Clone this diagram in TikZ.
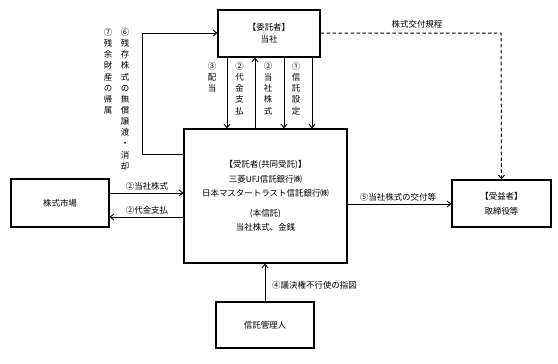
\documentclass[tikz,border=0pt]{standalone}
\usepackage{fontspec}
\setmainfont{Noto Sans CJK JP}
\usetikzlibrary{arrows.meta,positioning}
\tikzset{party/.style={draw=black,line width=1.3pt,align=center,inner sep=0pt,
  font=\fontsize{8.5}{12.5}\selectfont},
 flow/.style={line width=.9pt,-{Straight Barb[length=3.5pt,width=6pt]}},
 lbl/.style={font=\fontsize{8.5}{10}\selectfont,inner sep=1pt},
 vlbl/.style={font=\fontsize{8.5}{11.2}\selectfont,align=center,inner sep=0pt,anchor=north}}

\begin{document}
\begin{tikzpicture}[x=1bp,y=-1bp]
\useasboundingbox (0,0) rectangle (558,363);
% parties
\node[party,minimum width=102bp,minimum height=47bp] (trustor) at (269,33.5) {【委託者】\\当社};
\node[party,minimum width=163bp,minimum height=134bp,font=\fontsize{8.5}{14.5}\selectfont] (trustee) at (265.5,196)
  {【受託者(共同受託)】\\三菱UFJ信託銀行㈱\\日本マスタートラスト信託銀行㈱\\[5pt](本信託)\\当社株式、金銭};
\node[party,minimum width=98bp,minimum height=48bp] (market) at (60,203) {株式市場};
\node[party,minimum width=99bp,minimum height=47bp,font=\fontsize{8.5}{15}\selectfont] (benef) at (501.5,203.5) {【受益者】\\取締役等};
\node[party,minimum width=98bp,minimum height=46bp] (admin) at (265,325) {信託管理人};
% columns between trustor and trustee
\coordinate (c3) at (227,0);
\coordinate (c2a) at (255,0);
\coordinate (c2b) at (284,0);
\coordinate (c1) at (312,0);
\draw[flow] (c3 |- trustor.south) -- (c3 |- trustee.north);
\draw[flow] (c2a |- trustee.north) -- (c2a |- trustor.south);
\draw[flow] (c2b |- trustor.south) -- (c2b |- trustee.north);
\draw[flow] (c1 |- trustor.south) -- (c1 |- trustee.north);
\node[vlbl] (l3) at (212,62) {③\\配\\当};
\node[vlbl] (l2a) at (239.5,62) {②\\代\\金\\支\\払};
\node[vlbl] (l2b) at (268,62) {②\\当\\社\\株\\式};
\node[vlbl] (l1) at (296,62) {①\\信\\託\\設\\定};
% return of remaining shares
\coordinate (fbA) at (142,154);
\coordinate (fbB) at (142,33);
\draw[flow] (fbA -| trustee.west) -- (fbA) -- (fbB) -- (fbB -| trustor.west);
\node[vlbl] (l6) at (125,28) {⑥\\残\\存\\株\\式\\の\\無\\償\\譲\\渡\\・\\消\\却};
\node[vlbl] (l7) at (108,28) {⑦\\残\\余\\財\\産\\の\\帰\\属};
% market
\coordinate (mk1) at (0,193);
\coordinate (mk2) at (0,217);
\draw[flow] (mk1 -| market.east) -- (mk1 -| trustee.west);
\draw[flow] (mk2 -| trustee.west) -- (mk2 -| market.east);
\node[lbl,anchor=south] (lm1) at (147,191) {②当社株式};
\node[lbl,anchor=south] (lm2) at (147,215) {②代金支払};
% beneficiaries
\coordinate (bn) at (0,204);
\draw[flow] (bn -| trustee.east) -- (bn -| benef.west);
\node[lbl,anchor=south] (l5) at (398,202) {⑤当社株式の交付等};
\coordinate (dsh) at (501,33);
\draw[flow,line width=1pt,dash pattern=on 3.5pt off 2.5pt] (trustor.east |- dsh) -- (dsh) -- (benef.north);
\node[lbl] (lrule) at (417,24) {株式交付規程};
% trust administrator
\draw[flow] (admin.north) -- (admin.north |- trustee.south);
\node[lbl,anchor=west] (l4) at (271,285) {④議決権不行使の指図};
\end{tikzpicture}
\end{document}
